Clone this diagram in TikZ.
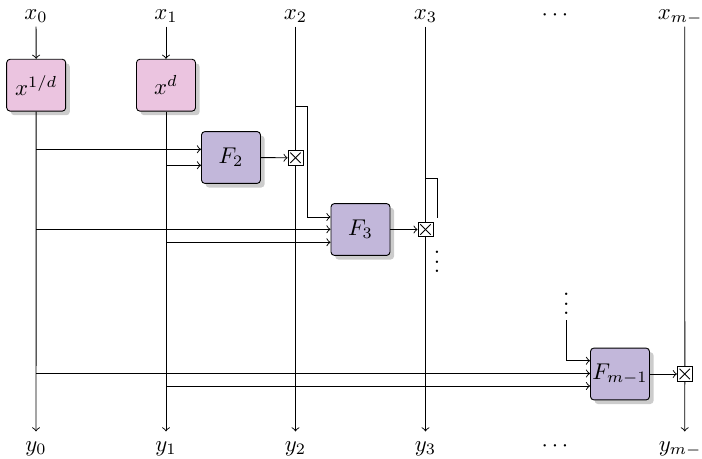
\documentclass[tikz,border=0pt]{standalone}
\usetikzlibrary{shadows,calc}
\definecolor{pinkbox}{RGB}{235,196,224}
\definecolor{purplebox}{RGB}{194,183,218}
\begin{document}
\begin{tikzpicture}[x=0.015432cm,y=-0.015432cm,
  lbl/.style={inner sep=2pt,text height=1.5ex,text depth=0.25ex},
  fbox/.style={draw,rounded corners=1.5pt,inner xsep=0.6pt,inner ysep=2pt,minimum width=0.91cm,minimum height=0.8cm,
    drop shadow={shadow xshift=1.8pt,shadow yshift=-1.8pt,opacity=0.4}},
  powbox/.style={fbox,fill=pinkbox},
  funbox/.style={fbox,fill=purplebox},
  mult/.style={draw,fill=white,minimum size=0.23cm,inner sep=0pt,
    path picture={
      \draw ([xshift=0.035cm,yshift=0.035cm]path picture bounding box.south west) -- ([xshift=-0.035cm,yshift=-0.035cm]path picture bounding box.north east);
      \draw ([xshift=0.035cm,yshift=-0.035cm]path picture bounding box.north west) -- ([xshift=-0.035cm,yshift=0.035cm]path picture bounding box.south east);
    }}]
\useasboundingbox (0,0) rectangle (702,459);

% top labels
\node[lbl] (tx0) at (36,13) {$x_0$};
\node[lbl] (tx1) at (166,13) {$x_1$};
\node[lbl] (tx2) at (295.5,13) {$x_2$};
\node[lbl] (tx3) at (425.5,13) {$x_3$};
\node[lbl] (tdt) at (555,14) {$\cdots$};
\node[lbl] (txm) at (684.7,13) {$x_{m-1}$};

% bottom labels
\node[lbl] (ty0) at (36,445) {$y_0$};
\node[lbl] (ty1) at (166,445) {$y_1$};
\node[lbl] (ty2) at (295.5,445) {$y_2$};
\node[lbl] (ty3) at (425.5,445) {$y_3$};
\node[lbl] (bdt) at (555,445) {$\cdots$};
\node[lbl] (tym) at (684.7,445) {$y_{m-1}$};

% boxes
\node[powbox] (p0) at (36.2,85.2) {$x^{1/d}$};
\node[powbox] (p1) at (166,85.2) {$x^{d}$};
\node[funbox] (F2) at (231,157.5) {$F_2$};
\node[funbox] (F3) at (360.5,229.5) {$F_3$};
\node[funbox] (Fm) at (620,374) {$F_{m-1}$};

% multipliers
\node[mult] (m2) at (295.5,157.8) {};
\node[mult] (m3) at (425.5,229.5) {};
\node[mult] (mm) at (684.8,374) {};

% vertical dots
\node (vd3) at (437,255) {$\vdots$};
\node (vdm) at (566.3,297) {$\vdots$};

% columns
\draw[->] (tx0) -- (p0);
\draw[->] (p0) -- (ty0);
\draw[->] (tx1) -- (p1);
\draw[->] (p1) -- (ty1);
\draw (tx2) -- (m2);
\draw[->] (m2) -- (ty2);
\draw (tx3) -- (m3);
\draw[->] (m3) -- (ty3);
\draw (txm) -- (mm);
\draw[->] (mm) -- (tym);

% outputs of F boxes
\draw[->] (F2) -- (m2);
\draw[->] (F3) -- (m3);
\draw[->] (Fm) -- (mm);

% branches from x0 and x1 columns
\coordinate (b0a) at (36,149.3);
\coordinate (b1a) at (166,165.3);
\coordinate (b0b) at (36,229.3);
\coordinate (b1b) at (166,242.3);
\coordinate (b0c) at (36,373.5);
\coordinate (b1c) at (166,386);
\draw[->] (b0a) -- (b0a -| F2.west);
\draw[->] (b1a) -- (b1a -| F2.west);
\draw[->] (b0b) -- (b0b -| F3.west);
\draw[->] (b1b) -- (b1b -| F3.west);
\draw[->] (b0c) -- (b0c -| Fm.west);
\draw[->] (b1c) -- (b1c -| Fm.west);

% jogs
\coordinate (j2) at (295.5,106);
\coordinate (j2b) at (307.3,217);
\draw[->] (j2) -| (j2b) -- (j2b -| F3.west);
\coordinate (j3) at (425.5,178);
\coordinate (j3b) at (437,218.3);
\draw (j3) -| (j3b);
\coordinate (jm) at (566.3,320);
\coordinate (jmb) at (566.3,360.7);
\draw[->] (jm) -- (jmb) -- (jmb -| Fm.west);
\end{tikzpicture}
\end{document}
